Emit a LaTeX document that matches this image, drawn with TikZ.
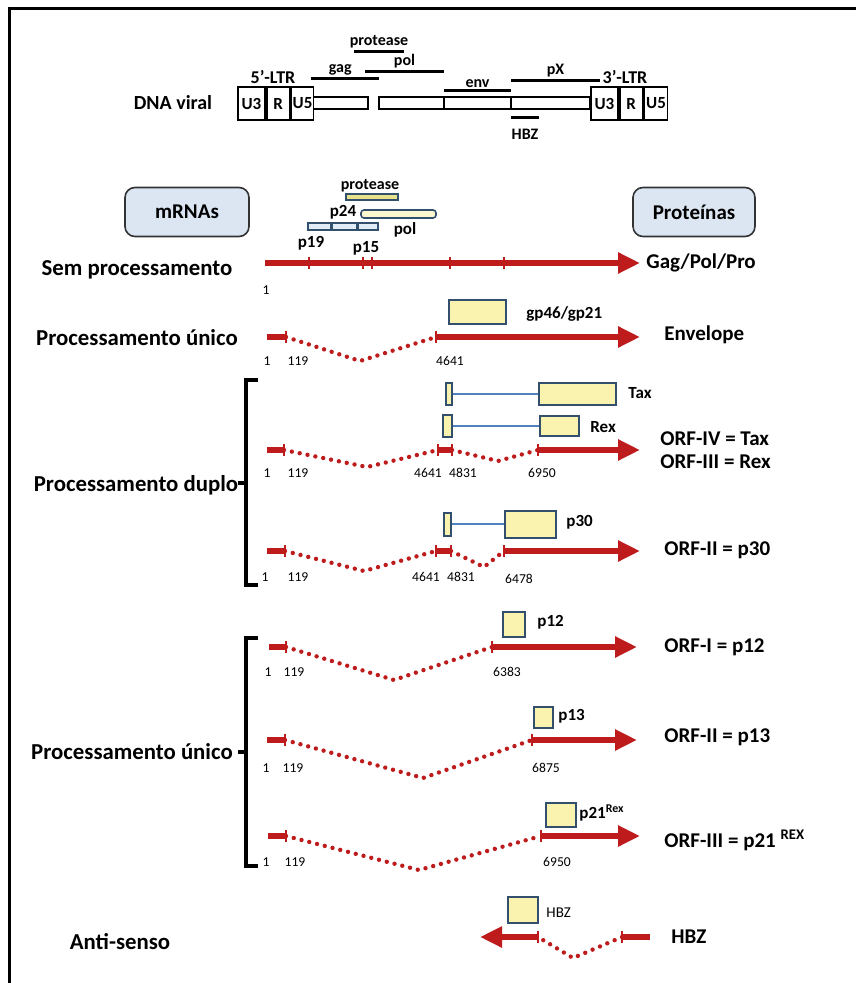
\documentclass[tikz,border=0pt]{standalone}
\usepackage{fontspec}
\setmainfont{Carlito}
\usetikzlibrary{arrows.meta}
\definecolor{rnared}{RGB}{190,28,28}
\definecolor{boxblue}{RGB}{50,80,110}
\definecolor{boxyel}{RGB}{250,242,175}
\definecolor{linkblue}{RGB}{80,130,190}
\definecolor{headblue}{RGB}{220,230,242}
\definecolor{barblue}{RGB}{225,236,246}
\definecolor{baryel}{RGB}{232,226,140}

\begin{document}
\begin{tikzpicture}[x=0.5pt, y=-0.5pt,
  every node/.style={inner sep=1pt},
  rowlab/.style={font=\bfseries\fontsize{11.4}{13}\selectfont},
  protlab/.style={anchor=west, font=\bfseries\fontsize{10.5}{12}\selectfont},
  smlab/.style={font=\bfseries\fontsize{8.5}{10}\selectfont},
  genelab/.style={font=\bfseries\fontsize{8}{9}\selectfont},
  num/.style={font=\fontsize{6.8}{8}\selectfont},
  mrna/.style={draw=rnared, line width=3pt, -{Triangle[length=11pt,width=10pt]}},
  exon/.style={draw=rnared, line width=3pt},
  intron/.style={draw=rnared, line width=2.2pt, line cap=round, dash pattern=on 0pt off 4pt},
  tk/.style={draw=rnared, line width=1.1pt},
  orf/.style={draw=boxblue, fill=boxyel, line width=1pt, inner sep=0pt},
  bar/.style={draw=boxblue, line width=0.8pt, inner sep=0pt},
  link/.style={draw=linkblue, line width=0.7pt},
  head/.style={draw=black!80, fill=headblue, rounded corners=5pt, line width=0.8pt,
    minimum width=62pt, minimum height=24.5pt, font=\bfseries\fontsize{10.5}{12}\selectfont},
  ltr/.style={draw, line width=0.9pt, minimum height=16.5pt, inner sep=0pt,
    anchor=west, font=\bfseries\fontsize{8.5}{10}\selectfont},
  seg/.style={draw, fill=white, line width=1.3pt},
  gene/.style={line width=1.5pt},
  brace/.style={line width=1.6pt}]
\useasboundingbox (0,0) rectangle (856,983);
\draw[line width=1.5pt] (9,983) -- (9,9) -- (856,9);

% proviral DNA
\node[font=\bfseries\fontsize{10}{12}\selectfont] (dna) at (173,103) {DNA viral};
\draw[seg] (309,97) rectangle (368,109);
\draw[seg] (379,97) rectangle (444,109);
\draw[seg] (444,97) rectangle (511,109);
\draw[seg] (511,97) rectangle (590,109);
\node[ltr, minimum width=13.5pt] (u3a) at (237,103.5) {U3};
\node[ltr, minimum width=11.5pt] (ra) at (u3a.east) {R};
\node[ltr, minimum width=11pt, fill=white] (u5a) at (ra.east) {U5};
\node[ltr, minimum width=13.5pt] (u3b) at (590,103.5) {U3};
\node[ltr, minimum width=11.5pt] (rb) at (u3b.east) {R};
\node[ltr, minimum width=11.5pt] (u5b) at (rb.east) {U5};
\node[genelab, font=\bfseries\fontsize{9}{10}\selectfont] at (273,77) {5’-LTR};
\node[genelab, font=\bfseries\fontsize{9}{10}\selectfont] at (625,77) {3’-LTR};
\draw[gene] (311,79) -- node[pos=0.43, above, genelab] {gag} (379,79);
\draw[gene] (354,52) -- node[above, genelab] {protease} (404,52);
\draw[gene] (365,72) -- node[above, genelab] {pol} (444,72);
\draw[gene] (444,91) -- node[above, genelab] {env} (511,91);
\draw[gene] (511,81) -- node[above, genelab] {pX} (600,81);
\draw[gene] (511,118) -- node[below=4pt, genelab] {HBZ} (539,118);

% column heads
\node[head] (mrnas) at (187,212) {mRNAs};
\node[head, minimum width=61pt] (prots) at (694,212) {Proteínas};

% unspliced
\node[bar, fill=baryel, minimum width=26pt, minimum height=3pt] (prt) at (372,197) {};
\node[bar, fill=boxyel!60, rounded corners=1.5pt, minimum width=37.5pt, minimum height=4pt] (pol) at (398.5,214) {};
\node[bar, fill=barblue, minimum width=11.5pt, minimum height=3.5pt, anchor=west] (p19) at (307,226.5) {};
\node[bar, fill=barblue, minimum width=12pt, minimum height=3.5pt, anchor=west] (p24) at (p19.east) {};
\node[bar, fill=barblue, minimum width=10pt, minimum height=3.5pt, anchor=west] (p15) at (p24.east) {};
\node[genelab] at (370,186) {protease};
\node[smlab] at (343,212) {p24};
\node[smlab] at (405,230) {pol};
\node[smlab] at (311,243) {p19};
\node[smlab] at (366,248) {p15};
\node[rowlab] (sem) at (137,270) {Sem processamento};
\coordinate (r1s) at (265,263);
\coordinate (r1e) at (640,263);
\draw[mrna] (r1s) -- (r1e);
\foreach \x in {309,363,372,450,504} \draw[tk] (\x,257) -- (\x,269);
\node[num] at (266,290) {1};
\node[protlab] (gpp) at (644,263) {Gag/Pol/Pro};

% singly spliced: env
\node[rowlab] (uni1) at (137,338) {Processamento único};
\coordinate (r2s) at (267,337);
\coordinate (r2a) at (286,337);
\coordinate (r2d) at (360,361);
\coordinate (r2b) at (436,337);
\coordinate (r2e) at (640,337);
\draw[exon] (r2s) -- (r2a);
\draw[intron] (r2a) -- (r2d) -- (r2b);
\draw[mrna] (r2b) -- (r2e);
\draw[tk] (r2a) +(0,-6) -- +(0,6);
\draw[tk] (r2b) +(0,-6) -- +(0,6);
\node[orf, minimum width=28.5pt, minimum height=12pt] (env) at (477.5,312) {};
\node[smlab, anchor=west] at (524,314) {gp46/gp21};
\node[num] at (267,361) {1};
\node[num] at (298,361) {119};
\node[num] at (450,361) {4641};
\node[protlab] (envl) at (662,335) {Envelope};

% doubly spliced: tax/rex
\node[rowlab] (dup) at (136,485) {Processamento duplo};
\draw[brace] (258,380) -- (246,380) -- (246,585) -- (258,585);
\draw[brace] (246,483) -- (238,483);
\node[orf, minimum width=3pt, minimum height=11pt] (taxa) at (449,394) {};
\node[orf, minimum width=38.5pt, minimum height=10.5pt] (taxb) at (577.5,394) {};
\draw[link] (taxa) -- (taxb);
\node[smlab, anchor=west] at (626,393) {Tax};
\node[orf, minimum width=4.5pt, minimum height=11pt] (rexa) at (447.5,426) {};
\node[orf, minimum width=19.5pt, minimum height=10pt] (rexb) at (559.5,426) {};
\draw[link] (rexa) -- (rexb);
\node[smlab, anchor=west] at (588,427) {Rex};
\coordinate (r3s) at (267,450);
\coordinate (r3a) at (284,450);
\coordinate (r3d) at (367,467);
\coordinate (r3b) at (438,450);
\coordinate (r3c) at (452,450);
\coordinate (r3f) at (498,461);
\coordinate (r3g) at (538,450);
\coordinate (r3e) at (640,450);
\draw[exon] (r3s) -- (r3a);
\draw[intron] (r3a) -- (r3d) -- (r3b);
\draw[exon] (r3b) -- (r3c);
\draw[intron] (r3c) -- (r3f) -- (r3g);
\draw[mrna] (r3g) -- (r3e);
\foreach \p in {r3a,r3b,r3c,r3g} \draw[tk] (\p) +(0,-6) -- +(0,6);
\node[num] at (267,473) {1};
\node[num] at (298,473) {119};
\node[num] at (428,473) {4641};
\node[num] at (463,473) {4831};
\node[num] at (542,473) {6950};
\node[protlab] (orf4) at (658,439) {ORF-IV = Tax};
\node[protlab] (orf3) at (658,462) {ORF-III = Rex};

% doubly spliced: p30
\node[orf, minimum width=3.5pt, minimum height=11.5pt] (p30a) at (447.5,524) {};
\node[orf, minimum width=25.5pt, minimum height=13.5pt] (p30b) at (530.5,524) {};
\draw[link] (p30a) -- (p30b);
\node[smlab, anchor=west] at (564,522) {p30};
\coordinate (r4s) at (267,551);
\coordinate (r4a) at (285,551);
\coordinate (r4d) at (364,571);
\coordinate (r4b) at (436,551);
\coordinate (r4c) at (451,551);
\coordinate (r4f) at (484,567);
\coordinate (r4g) at (504,551);
\coordinate (r4e) at (640,551);
\draw[exon] (r4s) -- (r4a);
\draw[intron] (r4a) -- (r4d) -- (r4b);
\draw[exon] (r4b) -- (r4c);
\draw[intron] (r4c) -- (r4f) -- (r4g);
\draw[mrna] (r4g) -- (r4e);
\foreach \p in {r4a,r4b,r4c,r4g} \draw[tk] (\p) +(0,-6) -- +(0,6);
\node[num] at (265,577) {1};
\node[num] at (298,577) {119};
\node[num] at (426,577) {4641};
\node[num] at (461,577) {4831};
\node[num] at (519,579) {6478};
\node[protlab] (orf2a) at (662,550) {ORF-II = p30};

% singly spliced: pX
\node[rowlab] (uni2) at (132,752) {Processamento único};
\draw[brace] (258,638) -- (246,638) -- (246,866) -- (258,866);
\draw[brace] (246,752) -- (238,752);
\node[orf, minimum width=11pt, minimum height=12.5pt] (p12) at (514,624.5) {};
\node[smlab, anchor=west] at (535,622) {p12};
\coordinate (r5s) at (269,647);
\coordinate (r5a) at (286,647);
\coordinate (r5d) at (394,680);
\coordinate (r5b) at (492,647);
\coordinate (r5e) at (637,647);
\draw[exon] (r5s) -- (r5a);
\draw[intron] (r5a) -- (r5d) -- (r5b);
\draw[mrna] (r5b) -- (r5e);
\foreach \p in {r5a,r5b} \draw[tk] (\p) +(0,-6) -- +(0,6);
\node[num] at (268,672) {1};
\node[num] at (294,672) {119};
\node[num] at (507,672) {6383};
\node[protlab] (orf1) at (662,647) {ORF-I = p12};

\node[orf, minimum width=9.5pt, minimum height=10.5pt] (p13) at (543.5,717.5) {};
\node[smlab, anchor=west] at (556,716) {p13};
\coordinate (r6s) at (267,740);
\coordinate (r6a) at (285,740);
\coordinate (r6d) at (423,778);
\coordinate (r6b) at (532,740);
\coordinate (r6e) at (637,740);
\draw[exon] (r6s) -- (r6a);
\draw[intron] (r6a) -- (r6d) -- (r6b);
\draw[mrna] (r6b) -- (r6e);
\foreach \p in {r6a,r6b} \draw[tk] (\p) +(0,-6) -- +(0,6);
\node[num] at (266,768) {1};
\node[num] at (293,768) {119};
\node[num] at (546,768) {6875};
\node[protlab] (orf2b) at (662,737) {ORF-II = p13};

\node[orf, minimum width=15pt, minimum height=12pt] (p21) at (561,815) {};
\node[smlab, anchor=west] at (577,813) {p21\textsuperscript{Rex}};
\coordinate (r7s) at (268,836);
\coordinate (r7a) at (286,836);
\coordinate (r7d) at (419,870);
\coordinate (r7b) at (541,836);
\coordinate (r7e) at (640,836);
\draw[exon] (r7s) -- (r7a);
\draw[intron] (r7a) -- (r7d) -- (r7b);
\draw[mrna] (r7b) -- (r7e);
\foreach \p in {r7a,r7b} \draw[tk] (\p) +(0,-6) -- +(0,6);
\node[num] at (266,862) {1};
\node[num] at (295,862) {119};
\node[num] at (557,862) {6950};
\node[protlab] (orf3b) at (662,840) {ORF-III = p21 \textsuperscript{REX}};

% antisense
\node[rowlab] (anti) at (120,942) {Anti-senso};
\node[orf, minimum width=15pt, minimum height=13pt] (hbz) at (523,910) {};
\node[anchor=west, font=\fontsize{7.5}{9}\selectfont] at (544,913) {HBZ};
\coordinate (r8s) at (650,937);
\coordinate (r8a) at (622,937);
\coordinate (r8d) at (573,958);
\coordinate (r8b) at (538,937);
\coordinate (r8e) at (480,937);
\draw[exon] (r8s) -- (r8a);
\draw[intron] (r8a) -- (r8d) -- (r8b);
\draw[mrna] (r8b) -- (r8e);
\foreach \p in {r8a,r8b} \draw[tk] (\p) +(0,-6) -- +(0,6);
\node[protlab] (hbzl) at (669,937) {HBZ};
\end{tikzpicture}
\end{document}
